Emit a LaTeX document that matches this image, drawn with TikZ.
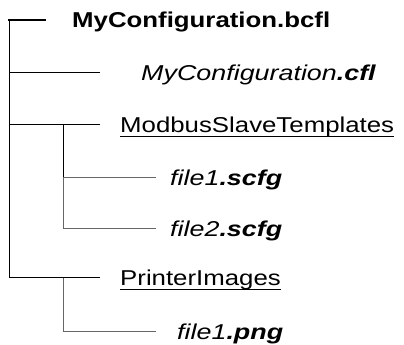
\documentclass[tikz,border=0pt]{standalone}
\usepackage{fontspec}
\setmainfont{Liberation Sans}[FakeStretch=1.2,
  ItalicFeatures={FakeStretch=1.25}, BoldItalicFeatures={FakeStretch=1.25}]
\usetikzlibrary{positioning}

\tikzset{
  branch/.style={line width=1pt, black},
  twig/.style={line width=1pt, black!60},
  entry/.style={anchor=base west, inner sep=0pt, font=\fontsize{21.5}{24}\selectfont},
  uline/.style={line width=1.1pt, black},
}

\begin{document}
\begin{tikzpicture}[x=1pt, y=-1pt]
  \useasboundingbox (0,0) rectangle (404,345);

  % tronco
  \coordinate (top) at (9,20);
  \coordinate (cfg) at (9,72);
  \coordinate (mod) at (9,124.5);
  \coordinate (prn) at (9,277.5);

  % estremi dei rami
  \coordinate (topE) at (46,20);
  \coordinate (cfgE) at (100,72);
  \coordinate (modE) at (100,124.5);
  \coordinate (prnE) at (100,277.5);

  % sottorami
  \coordinate (modV) at (63,124.5);
  \coordinate (sA) at (63,177.5);
  \coordinate (sB) at (63,228.5);
  \coordinate (sAE) at (156,177.5);
  \coordinate (sBE) at (156,228.5);
  \coordinate (prnV) at (63,277.5);
  \coordinate (pA) at (63,331.5);
  \coordinate (pAE) at (156,331.5);

  \draw[branch] (top) -- (prn);
  \draw[line width=1.6pt] ([xshift=-0.8pt]top) -- (topE);
  \draw[branch] (cfg) -- (cfgE);
  \draw[branch] (mod) -- (modE);
  \draw[branch] (prn) -- (prnE);

  \draw[branch] (modV) -- (sA);
  \draw[twig] (sA) -- (sB);
  \draw[twig] (sA) -- (sAE);
  \draw[twig] (sB) -- (sBE);
  \draw[twig] (prnV) -- (pA) -- (pAE);

  % nomi
  \node[entry] (bcfl) at (72,28) {\textbf{MyConfiguration.bcfl}};
  \node[entry] (cfl) at (141,80) {\textit{MyConfiguration\textbf{.cfl}}};
  \node[entry] (modbus) at (120,132.5) {ModbusSlaveTemplates};
  \node[entry] (scfgA) at (170,185.5) {\textit{file1\textbf{.scfg}}};
  \node[entry] (scfgB) at (170,236.5) {\textit{file2\textbf{.scfg}}};
  \node[entry] (printer) at (120,285.5) {PrinterImages};
  \node[entry] (png) at (177,339.5) {\textit{file1\textbf{.png}}};

  % sottolineature
  \draw[uline] ([yshift=-4pt]modbus.base west) -- ([yshift=-4pt]modbus.base east);
  \draw[uline] ([yshift=-4pt]printer.base west) -- ([yshift=-4pt]printer.base east);
\end{tikzpicture}
\end{document}
